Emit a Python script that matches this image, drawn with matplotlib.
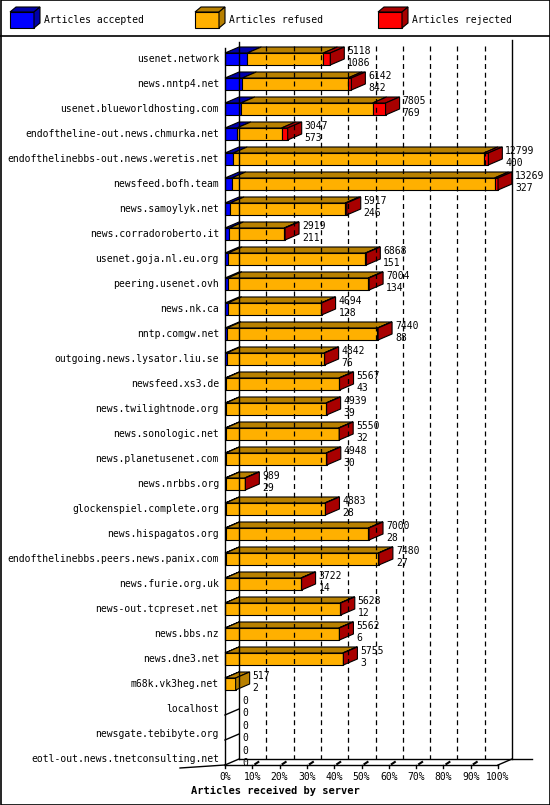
import matplotlib
matplotlib.use("Agg")
import matplotlib.pyplot as plt
from matplotlib.patches import Polygon, Rectangle

servers = ["usenet.network","news.nntp4.net","usenet.blueworldhosting.com",
"endoftheline-out.news.chmurka.net","endofthelinebbs-out.news.weretis.net",
"newsfeed.bofh.team","news.samoylyk.net","news.corradoroberto.it",
"usenet.goja.nl.eu.org","peering.usenet.ovh","news.nk.ca","nntp.comgw.net",
"outgoing.news.lysator.liu.se","newsfeed.xs3.de","news.twilightnode.org",
"news.sonologic.net","news.planetusenet.com","news.nrbbs.org",
"glockenspiel.complete.org","news.hispagatos.org","endofthelinebbs.peers.news.panix.com",
"news.furie.org.uk","news-out.tcpreset.net","news.bbs.nz","news.dne3.net",
"m68k.vk3heg.net","localhost","newsgate.tebibyte.org","eotl-out.news.tnetconsulting.net"]
totals = [5118,6142,7805,3047,12799,13269,5917,2919,6868,7004,4694,7440,4842,5567,
          4939,5550,4948,989,4883,7000,7480,3722,5628,5562,5755,517,0,0,0]
accepted = [1086,842,769,573,400,327,246,211,151,134,128,88,76,43,39,32,30,29,28,28,
            27,14,12,6,3,2,0,0,0]
rejected = [340,170,630,300,220,170,70,40,40,40,30,30,30,30,30,30,30,30,30,30,
            30,30,30,30,30,0,0,0,0]
refused = [t-a-r for t, a, r in zip(totals, accepted, rejected)]

fig = plt.figure(figsize=(5.5, 8.05), dpi=100)
ax = fig.add_axes([0, 0, 1, 1])
ax.set_xlim(0, 550); ax.set_ylim(805, 0); ax.axis("off")
mono = "DejaVu Sans Mono"
fs = 7

X0, W = 225, 273
vmax = max(totals)
DX, DY = 14, 6
Y0, STEP, H = 59, 25, 12

def px(v):
    return X0 + v / vmax * W

cols = [("#0000ff", "#0000a8"), ("#ffb000", "#b88000"), ("#ff0000", "#a80000")]

# frame and legend
ax.add_patch(Rectangle((0.5, 0.5), 549, 804, fill=False, lw=1.2, ec="black"))
ax.plot([0, 550], [36, 36], color="black", lw=1.2)
for lx, lab, (c, d) in zip([10, 195, 378], ["Articles accepted", "Articles refused", "Articles rejected"], cols):
    ax.add_patch(Polygon([(lx, 12), (lx+24, 12), (lx+24, 28), (lx, 28)], fc=c, ec="black", lw=0.8))
    ax.add_patch(Polygon([(lx, 12), (lx+6, 7), (lx+30, 7), (lx+24, 12)], fc=d, ec="black", lw=0.8))
    ax.add_patch(Polygon([(lx+24, 12), (lx+30, 7), (lx+30, 23), (lx+24, 28)], fc=d, ec="black", lw=0.8))
    ax.text(lx+34, 20, lab, fontsize=fs, family=mono, va="center")

ytop, yfloor = 42, 765
# back wall and grid
ax.plot([X0+DX, X0+DX], [ytop, yfloor-DY], color="black", lw=1)
ax.plot([X0, X0], [ytop+6, yfloor], color="black", lw=1)
ax.plot([X0+W+DX]*2, [ytop-2, yfloor-DY], color="black", lw=1)
for i in range(1, 10):
    gx = X0 + DX + W * i / 10
    ax.plot([gx, gx], [ytop+4, yfloor-DY], color="black", lw=0.9, ls=(0, (4, 3)))
# floor
ax.plot([X0-45, X0], [yfloor+3, yfloor], color="black", lw=1)
ax.plot([X0, X0+W], [yfloor, yfloor], color="black", lw=1)
ax.plot([X0+DX, X0+W+DX+20], [yfloor-DY, yfloor-DY], color="black", lw=1)
ax.plot([X0+W, X0+W+DX], [yfloor, yfloor-DY], color="black", lw=1)
for i in range(11):
    tx = X0 + W * i / 10
    ax.plot([tx, tx], [yfloor, yfloor+3], color="black", lw=1)
    if 0 < i < 10:
        ax.plot([tx+3, tx+6], [yfloor-1, yfloor-3], color="black", lw=1.5)
    ax.text(tx, yfloor+12, f"{i*10}%", fontsize=fs, family=mono, ha="center", va="center")
ax.text(275, 791, "Articles received by server", fontsize=7.5, family=mono, weight="bold", ha="center", va="center")

for k, name in enumerate(servers):
    yc = Y0 + k * STEP
    yt, yb = yc - H/2, yc + H/2
    ax.text(X0 - 6, yc, name, fontsize=fs, family=mono, ha="right", va="center")
    segs = [accepted[k], refused[k], rejected[k]]
    start = 0
    last = None
    for v, (c, d) in zip(segs, cols):
        if v <= 0:
            continue
        a, b = px(start), px(start + v)
        ax.add_patch(Polygon([(a, yt), (b, yt), (b, yb), (a, yb)], fc=c, ec="black", lw=0.8))
        ax.add_patch(Polygon([(a, yt), (a+DX, yt-DY), (b+DX, yt-DY), (b, yt)], fc=d, ec="black", lw=0.8))
        start += v
        last = d
    if last is not None:
        e = px(start)
        ax.add_patch(Polygon([(e, yt), (e+DX, yt-DY), (e+DX, yb-DY), (e, yb)], fc=last, ec="black", lw=0.8))
        lx = e + DX + 3
    else:
        ax.plot([X0, X0+DX], [yb, yb-DY], color="black", lw=1)
        lx = X0 + DX + 3
    ax.text(lx, yt - 2, str(totals[k]), fontsize=fs, family=mono, va="center")
    ax.text(lx, yb - 2, str(accepted[k]), fontsize=fs, family=mono, va="center")

fig.savefig("out.png", dpi=100)
